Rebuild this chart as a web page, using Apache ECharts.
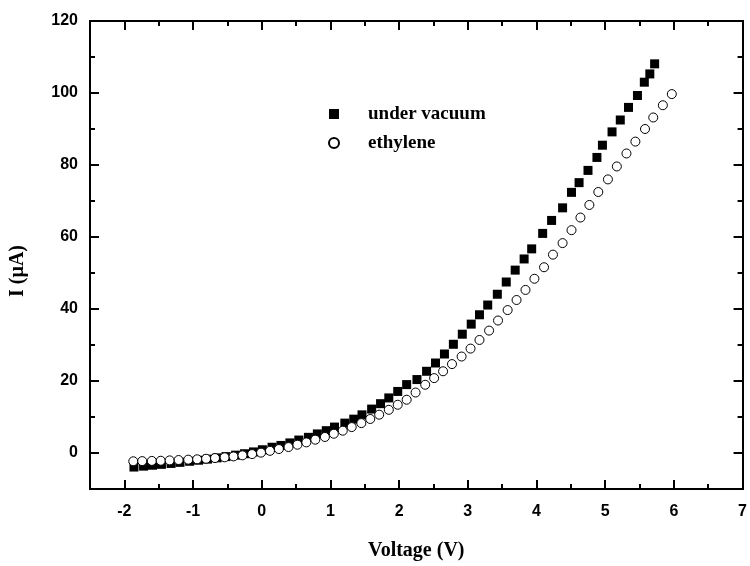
<!DOCTYPE html>
<html>
<head>
<meta charset="utf-8">
<script src="https://cdn.jsdelivr.net/npm/echarts@6/dist/echarts.min.js"></script>
<style>
  html, body { margin: 0; padding: 0; background: #fff; }
  #chart { width: 750px; height: 566px; }
</style>
</head>
<body>
<div id="chart"></div>
<script>
// I-V data
const vacuumV = [-1.86, -1.72, -1.59, -1.46, -1.32, -1.19, -1.05, -0.92, -0.79, -0.65,
  -0.52, -0.38, -0.25, -0.12, 0.01, 0.15, 0.28, 0.41, 0.54, 0.68,
  0.81, 0.94, 1.06, 1.21, 1.34, 1.46, 1.60, 1.73, 1.85, 1.98,
  2.11, 2.26, 2.40, 2.53, 2.66, 2.79, 2.92, 3.05, 3.17, 3.29,
  3.43, 3.56, 3.69, 3.82, 3.93, 4.09, 4.22, 4.38, 4.51, 4.62,
  4.75, 4.88, 4.96, 5.10, 5.22, 5.34, 5.47, 5.57, 5.65, 5.72]
const vacuumI = [-3.9, -3.65, -3.4, -3.15, -2.9, -2.6, -2.3, -2.0, -1.7, -1.35,
  -1.0, -0.6, -0.2, 0.3, 0.9, 1.6, 2.1, 2.8, 3.6, 4.35,
  5.3, 6.2, 7.2, 8.3, 9.4, 10.6, 12.2, 13.7, 15.3, 17.1,
  19.0, 20.4, 22.7, 25.0, 27.5, 30.2, 33.0, 35.8, 38.4, 41.1,
  44.1, 47.5, 50.8, 53.9, 56.7, 61.0, 64.6, 68.1, 72.4, 75.1,
  78.5, 82.1, 85.5, 89.2, 92.5, 96.0, 99.3, 103.0, 105.3, 108.1]

const ethyleneV = [-1.87, -1.74, -1.60, -1.47, -1.34, -1.21, -1.07, -0.94, -0.81, -0.68,
  -0.54, -0.41, -0.28, -0.14, -0.01, 0.12, 0.25, 0.39, 0.52, 0.65,
  0.78, 0.92, 1.05, 1.18, 1.31, 1.45, 1.58, 1.71, 1.85, 1.98,
  2.11, 2.24, 2.38, 2.51, 2.64, 2.77, 2.91, 3.04, 3.17, 3.31,
  3.44, 3.58, 3.71, 3.84, 3.97, 4.11, 4.24, 4.38, 4.51, 4.64,
  4.77, 4.90, 5.04, 5.17, 5.31, 5.44, 5.58, 5.70, 5.84, 5.97]
const ethyleneI = [-2.3, -2.25, -2.2, -2.15, -2.05, -1.95, -1.85, -1.75, -1.6, -1.4,
  -1.2, -0.95, -0.65, -0.3, 0.1, 0.6, 1.1, 1.65, 2.3, 2.95,
  3.7, 4.45, 5.35, 6.2, 7.2, 8.3, 9.45, 10.65, 12.0, 13.4,
  14.8, 16.8, 18.95, 20.8, 22.7, 24.7, 26.8, 29.0, 31.4, 34.0,
  36.8, 39.7, 42.5, 45.3, 48.4, 51.6, 55.1, 58.3, 61.9, 65.4,
  68.9, 72.5, 76.0, 79.6, 83.2, 86.5, 90.0, 93.2, 96.6, 99.7]

const seriesNames = ['under vacuum', 'ethylene']

const xMajor = [-2, -1, 0, 1, 2, 3, 4, 5, 6, 7]
const xMinor = [-1.5, -0.5, 0.5, 1.5, 2.5, 3.5, 4.5, 5.5, 6.5]
const yMajor = [0, 20, 40, 60, 80, 100, 120]
const yMinor = [10, 30, 50, 70, 90, 110]

const labelFont = { color: '#000', fontSize: 16, fontWeight: 'bold', fontFamily: 'Liberation Sans, Arial, sans-serif' }
const titleFont = { color: '#000', fontSize: 20, fontWeight: 'bold', fontFamily: 'Liberation Serif, Times New Roman, serif' }

// one axis layer: a set of inside ticks, optionally with labels
const makeAxis = (position, min, max, ticks, tickLen, labelMargin) => ({
  type: 'value',
  position,
  min,
  max,
  axisLine: { show: true, onZero: false, lineStyle: { color: '#000', width: 2 } },
  axisTick: { show: true, inside: true, length: tickLen, customValues: ticks, lineStyle: { color: '#000', width: 2 } },
  axisLabel: labelMargin
    ? { show: true, margin: labelMargin, customValues: ticks, ...labelFont }
    : { show: false },
  splitLine: { show: false }
})

const chart = echarts.init(document.getElementById('chart'))

const xBottom = makeAxis('bottom', -2.5, 7, xMajor, 9, 15)
xBottom.name = 'Voltage (V)'
xBottom.nameLocation = 'middle'
xBottom.nameGap = 52
xBottom.nameTextStyle = titleFont

const yLeft = makeAxis('left', -10, 120, yMajor, 9, 12)
yLeft.name = 'I (\u00b5A)'
yLeft.nameLocation = 'middle'
yLeft.nameGap = 62
yLeft.nameTextStyle = { ...titleFont, padding: [0, 32, 0, 0] }

const option = {
  animation: false,
  backgroundColor: '#fff',
  grid: { left: 90, right: 4, top: 21, bottom: 77, containLabel: false },
  xAxis: [
    xBottom,
    makeAxis('bottom', -2.5, 7, xMinor, 5, 0),
    makeAxis('top', -2.5, 7, xMajor, 9, 0),
    makeAxis('top', -2.5, 7, xMinor, 5, 0)
  ],
  yAxis: [
    yLeft,
    makeAxis('left', -10, 120, yMinor, 5, 0),
    makeAxis('right', -10, 120, yMajor, 9, 0),
    makeAxis('right', -10, 120, yMinor, 5, 0)
  ],
  legend: {
    data: seriesNames,
    orient: 'vertical',
    left: 328,
    top: 104,
    padding: 0,
    itemWidth: 10,
    itemHeight: 10,
    itemGap: 9,
    textStyle: { ...titleFont, fontSize: 19, lineHeight: 20, padding: [0, 0, 0, 24] }
  },
  series: [
    {
      name: seriesNames[0],
      type: 'scatter',
      symbol: 'rect',
      symbolSize: 9,
      itemStyle: { color: '#000', opacity: 1 },
      data: vacuumV.map((v, i) => [v, vacuumI[i]])
    },
    {
      name: seriesNames[1],
      type: 'scatter',
      symbol: 'circle',
      symbolSize: 9,
      itemStyle: { color: '#fff', borderColor: '#000', borderWidth: 1, opacity: 1 },
      data: ethyleneV.map((v, i) => [v, ethyleneI[i]])
    }
  ]
}

chart.setOption(option)
</script>
</body>
</html>
